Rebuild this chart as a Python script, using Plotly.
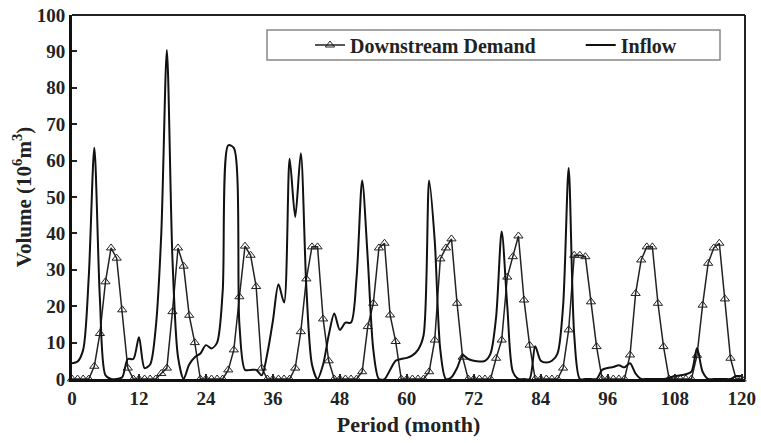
import plotly.graph_objects as go

months = list(range(0, 121))

downstream_demand = [
    0, 0, 0, 0, 3.5, 12.5, 26.7, 36, 33.2, 19, 3,
    0, 0, 0, 0, 0, 1.5, 3, 18.5, 36, 31, 17.5, 10,
    0, 0, 0, 0, 0, 2.5, 8, 22.6, 36.5, 34, 25.4, 3,
    0, 0, 0, 0, 0, 3, 13, 27.5, 36.3, 36.3, 16.5, 5,
    0, 0, 0, 0, 0, 2, 14.4, 20.8, 36, 37.3, 17.6, 10.3,
    0, 0, 0, 0, 0, 2, 10.7, 33, 36, 38.5, 20.8, 6,
    0, 0, 0, 0, 0, 5.7, 10.7, 28, 33.6, 39.3, 21.7, 9.3,
    0, 0, 0, 0, 0, 3, 13.5, 34, 34, 33.6, 21.2, 8.9,
    0, 0, 0, 0, 0, 6.6, 23.5, 32.7, 36.3, 36.3, 20.8, 8.9,
    0, 0, 0, 0, 0, 6.5, 20.3, 31.8, 36, 37.3, 22, 5.7,
    0, 0,
]

inflow = [
    4.3, 4.8, 8, 28, 63.5, 22, 1, 0, 0, 0.5,
    5.5, 5.5, 11.5, 3, 4, 14, 40, 90.4, 33, 6,
    0, 4, 6, 7, 9.3, 8.4, 10, 24, 64.2, 63.5,
    15, 2.5, 2.5, 2.5, 1, 7, 16, 26, 21, 60.5,
    44.5, 62, 25, 4, 0, 4, 12, 18, 13.5, 15.5,
    15.5, 28, 54.5, 33, 8, 0, 0, 2.5, 5, 5.5,
    5.8, 6.5, 8, 12, 54.5, 38, 8, 0, 0.5, 3,
    6.5, 5.5, 5, 4.8, 5, 7, 17, 40.5, 20, 2,
    0, 0, 0, 9, 5, 4.5, 5, 7, 20, 58,
    12, 0, 0, 0, 0, 2.5, 3, 3.3, 3.8, 3.2,
    4.3, 1.5, 0, 0, 0, 0, 0, 0.3, 0.8, 1,
    1.3, 2, 8.5, 2, 0, 0, 0, 0, 0, 0.8,
    0.8,
]

x_ticks = [0, 12, 24, 36, 48, 60, 72, 84, 96, 108, 120]
y_ticks = [0, 10, 20, 30, 40, 50, 60, 70, 80, 90, 100]

FONT = "Liberation Serif, Times New Roman, serif"
PAD = "\u00a0" * 8

fig = go.Figure()
fig.add_trace(go.Scatter(
    x=months, y=downstream_demand, name="<b>Downstream Demand</b>" + PAD,
    mode="lines+markers",
    line=dict(color="#222222", width=1.5),
    marker=dict(symbol="triangle-up-open", size=8, color="#222222",
                line=dict(width=1, color="#222222")),
    cliponaxis=False,
))
fig.add_trace(go.Scatter(
    x=months, y=inflow, name="<b>Inflow</b>",
    mode="lines",
    line=dict(color="#111111", width=2, shape="spline", smoothing=0.8),
))

W, H = 761, 443
L, T = 72, 15
PW, PH = 673, 364
R, B = W - L - PW, H - T - PH


def px_x(px):
    return (px - L) / PW


def px_y(py):
    return (T + PH - py) / PH


fig.update_layout(
    width=W, height=H,
    margin=dict(l=L, r=R, t=T, b=B),
    plot_bgcolor="white", paper_bgcolor="white",
    font=dict(family=FONT, color="#222222"),
    showlegend=True,
    legend=dict(
        orientation="h", x=px_x(310), xanchor="left",
        y=px_y(45), yanchor="middle",
        bgcolor="rgba(0,0,0,0)", borderwidth=0,
        font=dict(family=FONT, size=20, color="#222222"),
        tracegroupgap=0,
    ),
    xaxis=dict(
        range=[0, 120.6], tickvals=x_ticks,
        ticktext=[f"<b>{v}</b>" for v in x_ticks],
        tickfont=dict(family=FONT, size=19, color="#222222"),
        ticks="inside", ticklen=5, tickwidth=1.5, tickcolor="#222222",
        ticklabeloverflow="allow",
        showline=True, linecolor="#111111", linewidth=3,
        showgrid=False, zeroline=False, automargin=False,
        title=dict(text="<b>Period (month)</b>",
                   font=dict(family=FONT, size=22, color="#222222"), standoff=9),
    ),
    yaxis=dict(
        range=[0, 100], tickvals=y_ticks,
        ticktext=[f"<b>{v}</b>" for v in y_ticks],
        tickfont=dict(family=FONT, size=19, color="#222222"),
        ticks="inside", ticklen=5, tickwidth=1.5, tickcolor="#222222",
        ticklabeloverflow="allow",
        showline=True, linecolor="#111111", linewidth=3,
        showgrid=False, zeroline=False, automargin=False,
        title=dict(text="<b>Volume (10<sup>6</sup>m<sup>3</sup>)</b>",
                   font=dict(family=FONT, size=21, color="#222222"), standoff=0),
    ),
    shapes=[
        dict(type="line", xref="paper", yref="paper", x0=0, x1=1, y0=1, y1=1,
             line=dict(color="#222222", width=2)),
        dict(type="line", xref="paper", yref="paper", x0=1, x1=1, y0=0, y1=1,
             line=dict(color="#222222", width=2)),
        dict(type="rect", xref="paper", yref="paper",
             x0=px_x(267), x1=px_x(720), y0=px_y(60), y1=px_y(30),
             line=dict(color="#888888", width=1.5), fillcolor="rgba(0,0,0,0)"),
    ],
)

fig.write_html("out.html",
               config={"displayModeBar": False},
               post_script="document.body.style.margin='0';document.body.style.overflow='hidden';")
